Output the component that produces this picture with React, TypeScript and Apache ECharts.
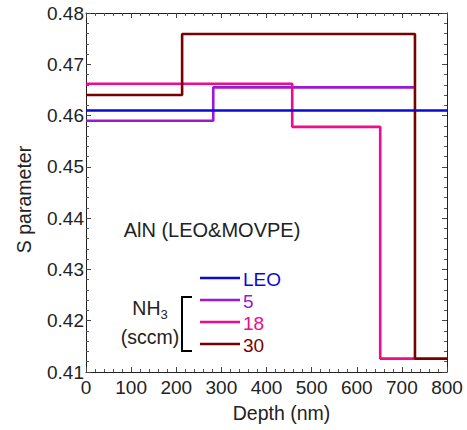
import React, { useEffect, useRef } from "react";
import * as echarts from "echarts";

// Step profiles: edges (depth, nm) and S-parameter level of each layer
const leoEdges = [0, 800];
const leoLevels = [0.461];
const nh5Edges = [0, 282, 727];
const nh5Levels = [0.459, 0.4655];
const nh18Edges = [0, 457, 652, 730];
const nh18Levels = [0.4662, 0.4578, 0.4126];
const nh30Edges = [0, 213, 729, 800];
const nh30Levels = [0.464, 0.4759, 0.4126];

const legendLabels = ["LEO", "5", "18", "30"];
const annotation = "AlN (LEO&MOVPE)";

const COLORS = ["#0a0ad0", "#9b18d4", "#f00a8c", "#7a0000"];
const FONT = "'Liberation Sans', Arial, sans-serif";

function steps(edges: number[], levels: number[]) {
  const pts: number[][] = [];
  levels.forEach((v, i) => {
    pts.push([edges[i], v]);
    pts.push([edges[i + 1], v]);
  });
  return pts;
}

export default function App() {
  const ref = useRef<HTMLDivElement>(null);
  useEffect(() => {
    if (!ref.current) return;
    const chart = echarts.init(ref.current, null, { renderer: "svg" });
    const axisColor = "#222";
    const baseX = {
      type: "value",
      min: 0,
      max: 800,
      interval: 100,
      axisLine: { show: true, onZero: false, lineStyle: { color: axisColor, width: 1 } },
      axisTick: { show: true, inside: true, length: 5, lineStyle: { color: "#444" } },
      minorTick: { show: true, splitNumber: 5, length: 3, lineStyle: { color: "#555" } },
      splitLine: { show: false },
    };
    const baseY = {
      type: "value",
      min: 0.41,
      max: 0.48,
      interval: 0.01,
      axisLine: { show: true, onZero: false, lineStyle: { color: axisColor, width: 1 } },
      axisTick: { show: true, inside: true, length: 5, lineStyle: { color: "#444" } },
      minorTick: { show: true, splitNumber: 5, length: 3, lineStyle: { color: "#555" } },
      splitLine: { show: false },
    };
    const series = [
      { name: "5", data: steps(nh5Edges, nh5Levels), color: COLORS[1] },
      { name: "18", data: steps(nh18Edges, nh18Levels), color: COLORS[2] },
      { name: "30", data: steps(nh30Edges, nh30Levels), color: COLORS[3] },
      { name: "LEO", data: steps(leoEdges, leoLevels), color: COLORS[0] },
    ].map((s) => ({
      type: "line",
      name: s.name,
      data: s.data,
      showSymbol: false,
      symbol: "none",
      lineStyle: { color: s.color, width: 2.6 },
      itemStyle: { color: s.color },
      z: 3,
    }));

    const legendYs = [278, 300, 322, 344];
    const legendGraphics: any[] = [];
    legendLabels.forEach((lab, i) => {
      legendGraphics.push({
        type: "line",
        shape: { x1: 200, y1: legendYs[i], x2: 240, y2: legendYs[i] },
        style: { stroke: COLORS[i], lineWidth: 2.6 },
      });
      legendGraphics.push({
        type: "text",
        x: 243,
        y: legendYs[i] + 1,
        style: {
          text: lab,
          fill: COLORS[i],
          font: `19px ${FONT}`,
          verticalAlign: "middle",
          align: "left",
        },
      });
    });

    chart.setOption({
      animation: false,
      backgroundColor: "#fff",
      grid: { left: 86, right: 20, top: 13, bottom: 58, containLabel: false },
      xAxis: [
        {
          ...baseX,
          position: "bottom",
          axisLabel: { show: true, fontSize: 19, color: axisColor, margin: 6, fontFamily: FONT },
          name: "Depth (nm)",
          nameLocation: "middle",
          nameGap: 31,
          nameTextStyle: { fontSize: 19.5, color: axisColor, fontFamily: FONT, padding: [0, 0, 0, 30] },
        },
        { ...baseX, position: "top", axisLabel: { show: false } },
      ],
      yAxis: [
        {
          ...baseY,
          position: "left",
          axisLabel: {
            show: true,
            fontSize: 19,
            color: axisColor,
            margin: 2,
            fontFamily: FONT,
            formatter: (v: number) => v.toFixed(2),
          },
          name: "S parameter",
          nameLocation: "middle",
          nameGap: 52,
          nameTextStyle: { fontSize: 19.5, color: axisColor, fontFamily: FONT, padding: [0, 14, 0, 0] },
        },
        { ...baseY, position: "right", axisLabel: { show: false } },
      ],
      series,
      graphic: [
        {
          type: "text",
          x: 212,
          y: 230,
          style: {
            text: annotation,
            fill: axisColor,
            font: `20px ${FONT}`,
            align: "center",
            verticalAlign: "middle",
          },
        },
        ...legendGraphics,
        {
          type: "polyline",
          shape: { points: [[192, 297], [182, 297], [182, 351], [192, 351]] },
          style: { stroke: "#000", lineWidth: 2, fill: "none" },
        },
        {
          type: "text",
          x: 150,
          y: 308,
          style: {
            text: "{a|NH}{s|3}",
            align: "center",
            verticalAlign: "middle",
            rich: {
              a: { fontSize: 19.5, fontFamily: FONT, fill: axisColor, color: axisColor },
              s: { fontSize: 13, fontFamily: FONT, fill: axisColor, color: axisColor, padding: [12, 0, 0, 0] },
            },
          },
        },
        {
          type: "text",
          x: 150,
          y: 337,
          style: {
            text: "(sccm)",
            fill: axisColor,
            font: `19.5px ${FONT}`,
            align: "center",
            verticalAlign: "middle",
          },
        },
      ],
    });
    return () => chart.dispose();
  }, []);
  return (
    <div
      ref={ref}
      style={{ position: "fixed", left: 0, top: 0, width: 467, height: 430 }}
    />
  );
}
